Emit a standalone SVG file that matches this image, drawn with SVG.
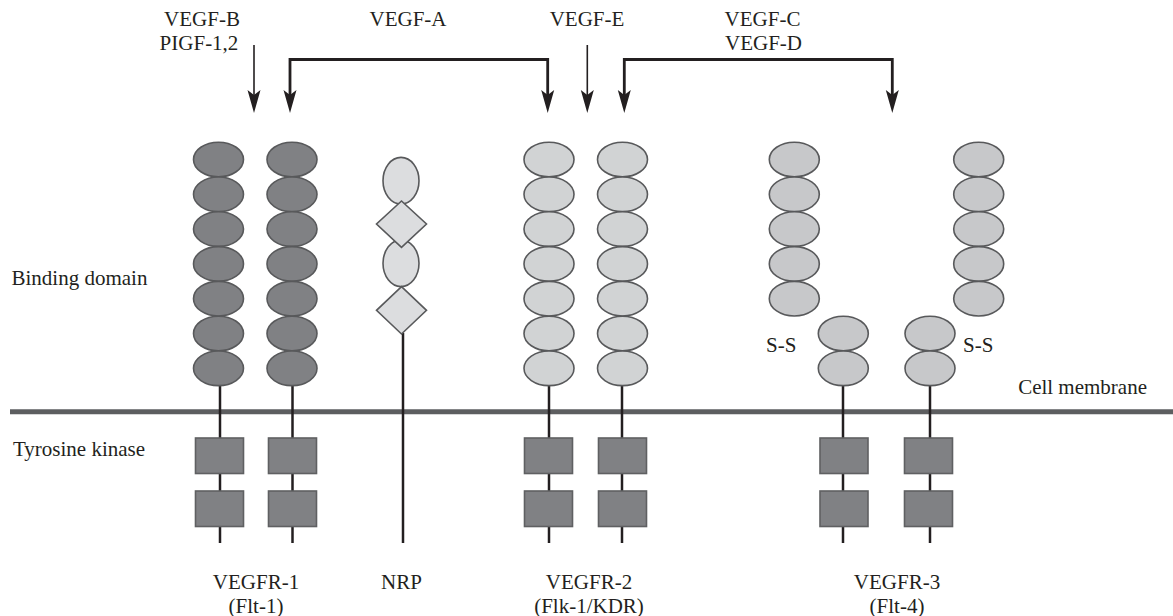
<svg xmlns="http://www.w3.org/2000/svg" width="1173" height="616" viewBox="0 0 1173 616">
<style>
text{font-family:'Liberation Serif','Times New Roman','DejaVu Serif',serif;font-size:21px;fill:#231f20}
.c{text-anchor:middle}
.stem{stroke:#231f20;stroke-width:2.5;fill:none}
.dk{fill:#808184;stroke:#58595b;stroke-width:1.6}
.lt{fill:#d1d3d4;stroke:#58595b;stroke-width:1.6}
.md{fill:#c7c8ca;stroke:#58595b;stroke-width:1.6}
.nrp{fill:#dcdddf;stroke:#58595b;stroke-width:1.6}
.kin{fill:#808184;stroke:#5f6062;stroke-width:1.6}
.thin{stroke:#231f20;stroke-width:1.6;fill:none}
.thick{stroke:#231f20;stroke-width:2.8;fill:none}
.head{fill:#231f20}
</style>
<defs>
<g id="dchain">
<ellipse cx="0" cy="159.5" rx="25" ry="17.3"/><ellipse cx="0" cy="194.3" rx="25" ry="17.3"/><ellipse cx="0" cy="229.1" rx="25" ry="17.3"/><ellipse cx="0" cy="263.9" rx="25" ry="17.3"/><ellipse cx="0" cy="298.7" rx="25" ry="17.3"/><ellipse cx="0" cy="333.5" rx="25" ry="17.3"/><ellipse cx="0" cy="368.3" rx="25" ry="17.3"/>
</g>
<g id="d5">
<ellipse cx="0" cy="159.5" rx="25" ry="17.3"/><ellipse cx="0" cy="194.3" rx="25" ry="17.3"/><ellipse cx="0" cy="229.1" rx="25" ry="17.3"/><ellipse cx="0" cy="263.9" rx="25" ry="17.3"/><ellipse cx="0" cy="298.7" rx="25" ry="17.3"/>
</g>
<g id="d2">
<ellipse cx="0" cy="333.5" rx="25" ry="17.3"/><ellipse cx="0" cy="368.3" rx="25" ry="17.3"/>
</g>
<g id="kinase">
<rect x="-24" y="438" width="48" height="35.5"/><rect x="-24" y="491" width="48" height="35.5"/>
</g>
<polygon id="ah" points="0,113 -6.5,90 0,95 6.5,90"/>
</defs>

<!-- membrane -->
<line x1="10" y1="411.8" x2="1173" y2="411.8" stroke="#5d5e60" stroke-width="5"/>

<g id="vegfr1">
<line class="stem" x1="220" y1="385" x2="220" y2="543"/>
<line class="stem" x1="292.5" y1="385" x2="292.5" y2="543"/>
<use href="#dchain" x="218.5" class="dk"/>
<use href="#dchain" x="292" class="dk"/>
<use href="#kinase" x="219.5" class="kin"/>
<use href="#kinase" x="292.5" class="kin"/>
<text class="c" x="256" y="589">VEGFR-1</text>
<text class="c" x="256" y="613">(Flt-1)</text>
</g>

<g id="nrp">
<line class="stem" x1="403" y1="333" x2="403" y2="543"/>
<ellipse class="nrp" cx="401" cy="180.7" rx="18" ry="23.3"/>
<ellipse class="nrp" cx="401" cy="263.3" rx="18" ry="23.3"/>
<polygon class="nrp" points="401.5,201 426.5,224 401.5,247.3 376.5,224"/>
<polygon class="nrp" points="401.5,286.7 426.5,310.3 401.5,334 376.5,310.3"/>
<text class="c" x="401.5" y="589">NRP</text>
</g>

<g id="vegfr2">
<line class="stem" x1="549" y1="385" x2="549" y2="543"/>
<line class="stem" x1="622" y1="385" x2="622" y2="543"/>
<use href="#dchain" x="549" class="lt"/>
<use href="#dchain" x="622.5" class="lt"/>
<use href="#kinase" x="548.5" class="kin"/>
<use href="#kinase" x="622.5" class="kin"/>
<text class="c" x="589" y="589">VEGFR-2</text>
<text class="c" x="589" y="613">(Flk-1/KDR)</text>
</g>

<g id="vegfr3">
<line class="stem" x1="843" y1="385" x2="843" y2="543"/>
<line class="stem" x1="930" y1="385" x2="930" y2="543"/>
<use href="#d5" x="794.3" class="md"/>
<use href="#d5" x="978.7" class="md"/>
<use href="#d2" x="843.3" class="md"/>
<use href="#d2" x="930" class="md"/>
<use href="#kinase" x="844" class="kin"/>
<use href="#kinase" x="928.5" class="kin"/>
<text x="766" y="352">S-S</text>
<text x="963" y="352">S-S</text>
<text class="c" x="897" y="589">VEGFR-3</text>
<text class="c" x="897" y="613">(Flt-4)</text>
</g>

<g id="labels">
<text x="11.5" y="285">Binding domain</text>
<text x="13" y="456">Tyrosine kinase</text>
<text x="1147" y="394" text-anchor="end">Cell membrane</text>
<text class="c" x="202" y="26">VEGF-B</text>
<text class="c" x="199" y="50">PIGF-1,2</text>
<text class="c" x="408" y="26">VEGF-A</text>
<text class="c" x="587" y="26">VEGF-E</text>
<text class="c" x="762.5" y="26">VEGF-C</text>
<text class="c" x="763.5" y="50">VEGF-D</text>
</g>

<g id="connectors">
<line class="thin" x1="254" y1="45" x2="254" y2="100"/>
<use href="#ah" x="254" class="head"/>
<line class="thin" x1="587.3" y1="45" x2="587.3" y2="100"/>
<use href="#ah" x="587.3" class="head"/>
<polyline class="thick" points="290,100 290,59.5 547.7,59.5 547.7,100"/>
<use href="#ah" x="290" class="head"/>
<use href="#ah" x="547.7" class="head"/>
<polyline class="thick" points="624.3,100 624.3,59.5 892.3,59.5 892.3,100"/>
<use href="#ah" x="624.3" class="head"/>
<use href="#ah" x="892.3" class="head"/>
</g>
</svg>
